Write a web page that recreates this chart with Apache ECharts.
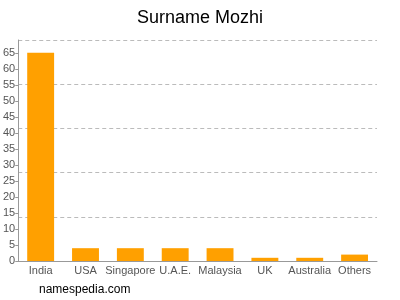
<!DOCTYPE html>
<html><head><meta charset="utf-8">
<script src="https://cdn.jsdelivr.net/npm/echarts@6/dist/echarts.min.js"></script>
<style>html,body{margin:0;padding:0;background:#fff}#c{width:400px;height:300px}</style>
</head><body><div id="c"></div>
<script>
const categories = ['India','USA','Singapore','U.A.E.','Malaysia','UK','Australia','Others'];
const values = [65,4,4,4,4,1,1,2];
const yMax = 69;
const gridStep = 13.8;
const chart = echarts.init(document.getElementById('c'), null, {renderer:'canvas'});
chart.setOption({
  animation:false,
  title:{text:'Surname Mozhi',left:'center',top:4,textStyle:{fontFamily:'Liberation Sans, Arial, sans-serif',fontSize:18,fontWeight:'normal',color:'#000'}},
  graphic:[{type:'text',left:39,top:284,style:{text:'namespedia.com',font:'12px Liberation Sans, Arial, sans-serif',fill:'#000'}}],
  grid:{left:18,right:23,top:40,bottom:39},
  xAxis:{type:'category',data:categories,
    axisLine:{lineStyle:{color:'#999'}},
    axisTick:{alignWithLabel:true,length:4,lineStyle:{color:'#999'}},
    axisLabel:{color:'#555',fontSize:11,fontFamily:'Liberation Sans, Arial, sans-serif',margin:4,interval:0}},
  yAxis:[{type:'value',min:0,max:yMax,interval:5,
    axisLine:{show:true,lineStyle:{color:'#999'}},
    axisTick:{show:true,length:3,lineStyle:{color:'#999'}},
    axisLabel:{color:'#555',fontSize:11,fontFamily:'Liberation Sans, Arial, sans-serif',margin:3,showMaxLabel:false},
    splitLine:{show:false}},
   {type:'value',min:0,max:yMax,interval:gridStep,position:'left',
    axisLine:{show:false},axisTick:{show:false},axisLabel:{show:false},
    splitLine:{show:true,lineStyle:{color:'#bbb',type:[4,3],width:1}}}],
  series:[{type:'bar',data:values,barWidth:'60%',itemStyle:{color:'#ffa000'}}]
});
</script></body></html>
